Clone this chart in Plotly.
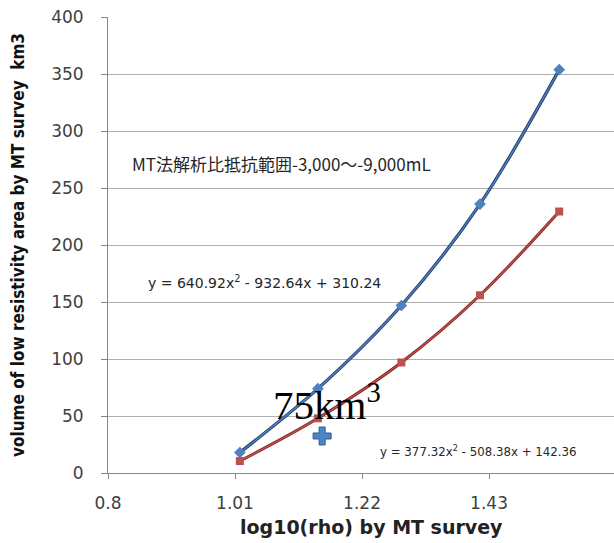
import plotly.graph_objects as go

# data
x_vals = [1.018, 1.147, 1.285, 1.415, 1.546]
blue_vals = [18.0, 74.0, 147.0, 236.0, 354.0]
red_vals = [10.5, 48.0, 97.0, 156.0, 229.5]
point_x = [1.154]
point_y = [32.5]
x_ticks = [0.8, 1.01, 1.22, 1.43]
y_ticks = [0, 50, 100, 150, 200, 250, 300, 350, 400]

fig = go.Figure()

# darker curves underneath
fig.add_trace(go.Scatter(x=x_vals, y=blue_vals, mode="lines",
                         line=dict(color="#1f3864", width=3.2, shape="spline"),
                         hoverinfo="skip", showlegend=False))
fig.add_trace(go.Scatter(x=x_vals, y=red_vals, mode="lines",
                         line=dict(color="#7a1f1c", width=3.0, shape="spline"),
                         hoverinfo="skip", showlegend=False))
# data series
fig.add_trace(go.Scatter(x=x_vals, y=blue_vals, mode="lines+markers",
                         line=dict(color="#4f81bd", width=1.5, shape="spline"),
                         marker=dict(symbol="diamond", size=9, color="#4f81bd"),
                         showlegend=False))
fig.add_trace(go.Scatter(x=x_vals, y=red_vals, mode="lines+markers",
                         line=dict(color="#c0504d", width=1.5, shape="spline"),
                         marker=dict(symbol="square", size=8, color="#c0504d"),
                         showlegend=False))
fig.add_trace(go.Scatter(x=point_x, y=point_y, mode="markers",
                         marker=dict(symbol="cross", size=15, color="#4a86c8",
                                     line=dict(color="#2e5c95", width=1)),
                         showlegend=False))

axis_font = dict(family="DejaVu Sans, Verdana, sans-serif", size=17, color="#404040")

W, H = 614, 543
L, R, T, B = 108, 0, 17, 70
PW, PH = W - L - R, H - T - B

fig.update_layout(
    width=W, height=H,
    margin=dict(l=L, r=R, t=T, b=B, autoexpand=False),
    paper_bgcolor="white", plot_bgcolor="white",
    xaxis=dict(range=[0.8, 1.6366], tickvals=x_ticks, ticktext=["0.8", "1.01", "1.22", "1.43"],
               showgrid=False, zeroline=False, showline=True, linecolor="#868686", linewidth=1,
               ticks="outside", ticklen=5, tickcolor="#868686", automargin=False,
               tickfont=axis_font, ticklabelstandoff=10),
    yaxis=dict(range=[0, 400.2], tickvals=y_ticks,
               showgrid=True, gridcolor="#b0b0b0", gridwidth=1, zeroline=False,
               showline=True, linecolor="#868686", linewidth=1, automargin=False,
               ticks="outside", ticklen=6, tickcolor="#868686",
               tickfont=axis_font, ticklabelstandoff=14),
    annotations=[
        dict(text="<b>volume of low resistivity area by MT survey  km3</b>",
             xref="paper", yref="paper", x=(18 - L) / PW, y=(H - B - 245) / PH,
             xanchor="center", yanchor="middle", showarrow=False, textangle=-90,
             font=dict(family="Liberation Sans Narrow, DejaVu Sans Condensed, Arial Narrow, sans-serif",
                       size=17, color="#111111")),
        dict(text="<b>log10(rho) by MT survey</b>",
             xref="paper", yref="paper", x=(371 - L) / PW, y=-(527 - 473) / PH,
             xanchor="center", yanchor="middle", showarrow=False,
             font=dict(family="DejaVu Sans, Verdana, sans-serif", size=19, color="#222222")),
        dict(text="MT法解析比抵抗範囲-3,000〜-9,000mL", x=0.836, y=272, xref="x", yref="y",
             xanchor="left", showarrow=False,
             font=dict(family="Noto Sans CJK JP, sans-serif", size=17, color="#262626")),
        dict(text="y = 640.92x<sup>2</sup> - 932.64x + 310.24", x=0.862, y=168, xref="x", yref="y",
             xanchor="left", showarrow=False,
             font=dict(family="DejaVu Sans, Verdana, sans-serif", size=14, color="#262626")),
        dict(text="y = 377.32x<sup>2</sup> - 508.38x + 142.36", x=1.247, y=19, xref="x", yref="y",
             xanchor="left", showarrow=False,
             font=dict(family="DejaVu Sans, Verdana, sans-serif", size=11.8, color="#262626")),
        dict(text="75km<sup>3</sup>", x=1.07, y=62, xref="x", yref="y",
             xanchor="left", showarrow=False,
             font=dict(family="Liberation Serif, DejaVu Serif, serif", size=41, color="#000000")),
    ],
)

fig.write_html("out.html", config={"displayModeBar": False},
               post_script="document.body.style.margin='0';document.body.style.overflow='hidden';")
